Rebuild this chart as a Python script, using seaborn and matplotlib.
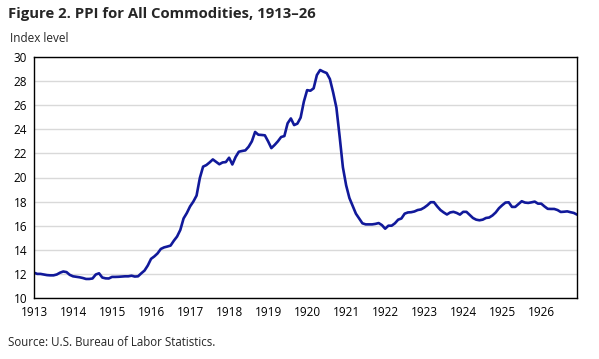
import matplotlib
matplotlib.use("Agg")
import matplotlib.pyplot as plt
import numpy as np
import pandas as pd
import seaborn as sns

# Monthly PPI, all commodities (index level)
years = list(range(1913, 1927))
ppi_1913 = [12.1, 12.0, 12.0, 11.95, 11.9, 11.88, 11.88, 11.95, 12.1, 12.2, 12.15, 11.92]
ppi_1914 = [11.8, 11.76, 11.72, 11.66, 11.58, 11.58, 11.62, 11.95, 12.05, 11.7, 11.63, 11.62]
ppi_1915 = [11.75, 11.75, 11.76, 11.78, 11.8, 11.8, 11.85, 11.78, 11.8, 12.05, 12.28, 12.7]
ppi_1916 = [13.25, 13.45, 13.7, 14.07, 14.2, 14.27, 14.35, 14.75, 15.1, 15.65, 16.6, 17.05]
ppi_1917 = [17.6, 18.0, 18.5, 19.95, 20.9, 21.03, 21.25, 21.5, 21.3, 21.1, 21.25, 21.28]
ppi_1918 = [21.64, 21.08, 21.7, 22.14, 22.2, 22.25, 22.55, 23.0, 23.78, 23.55, 23.53, 23.5]
ppi_1919 = [23.0, 22.44, 22.7, 23.0, 23.36, 23.44, 24.5, 24.9, 24.35, 24.47, 24.97, 26.3]
ppi_1920 = [27.25, 27.2, 27.4, 28.5, 28.92, 28.78, 28.67, 28.17, 27.06, 25.8, 23.4, 20.85]
ppi_1921 = [19.35, 18.3, 17.65, 17.0, 16.6, 16.2, 16.11, 16.11, 16.11, 16.15, 16.22, 16.05]
ppi_1922 = [15.75, 16.0, 16.0, 16.2, 16.5, 16.6, 17.0, 17.1, 17.12, 17.18, 17.3, 17.35]
ppi_1923 = [17.5, 17.7, 17.95, 17.95, 17.6, 17.3, 17.1, 16.93, 17.1, 17.15, 17.06, 16.92]
ppi_1924 = [17.15, 17.15, 16.9, 16.64, 16.5, 16.45, 16.5, 16.64, 16.68, 16.85, 17.1, 17.45]
ppi_1925 = [17.7, 17.92, 17.94, 17.56, 17.56, 17.8, 18.03, 17.92, 17.89, 17.94, 18.0, 17.83]
ppi_1926 = [17.83, 17.6, 17.4, 17.39, 17.39, 17.3, 17.14, 17.16, 17.19, 17.12, 17.06, 16.92]

values = [ppi_1913, ppi_1914, ppi_1915, ppi_1916, ppi_1917, ppi_1918, ppi_1919,
          ppi_1920, ppi_1921, ppi_1922, ppi_1923, ppi_1924, ppi_1925, ppi_1926]

rows = []
for year, months in zip(years, values):
    for month, val in enumerate(months):
        rows.append({"date": year + month / 12, "ppi": val})
df = pd.DataFrame(rows)

sns.set_theme(style="white")
plt.rcParams["font.family"] = ["Open Sans", "DejaVu Sans"]

fig = plt.figure(figsize=(5.99, 3.59), dpi=100)
ax = fig.add_axes([34 / 599, 1 - 298 / 359, 543 / 599, 241 / 359])

sns.lineplot(data=df, x="date", y="ppi", color="#11199a", linewidth=1.9, ax=ax)

ax.set_xlim(1913, 1913 + 167 / 12)
ax.set_ylim(10, 30)
ax.set_yticks(np.arange(10, 31, 2))
ax.set_xticks(years)
ax.set_xticklabels([str(y) for y in years])
ax.yaxis.grid(True, color="#d9d9d9", linewidth=1)
ax.set_axisbelow(True)
ax.set_xlabel("")
ax.set_ylabel("")

for side in ["left", "right", "top", "bottom"]:
    ax.spines[side].set_visible(True)
    ax.spines[side].set_color("black")
    ax.spines[side].set_linewidth(1)

ax.tick_params(axis="y", length=0, pad=5, labelsize=8.5, colors="black")
ax.tick_params(axis="x", direction="in", length=4, width=1, pad=6,
               labelsize=8.5, colors="black")

fig.text(8 / 599, 1 - 14 / 359, "Figure 2. PPI for All Commodities, 1913\u201326",
         fontsize=10.7, fontweight="bold", va="center", ha="left")
fig.text(10 / 599, 1 - 38 / 359, "Index level", fontsize=8.5, va="center", ha="left")
fig.text(8 / 599, 1 - 343 / 359, "Source: U.S. Bureau of Labor Statistics.",
         fontsize=8.3, va="center", ha="left")

fig.savefig("out.png", dpi=100)
